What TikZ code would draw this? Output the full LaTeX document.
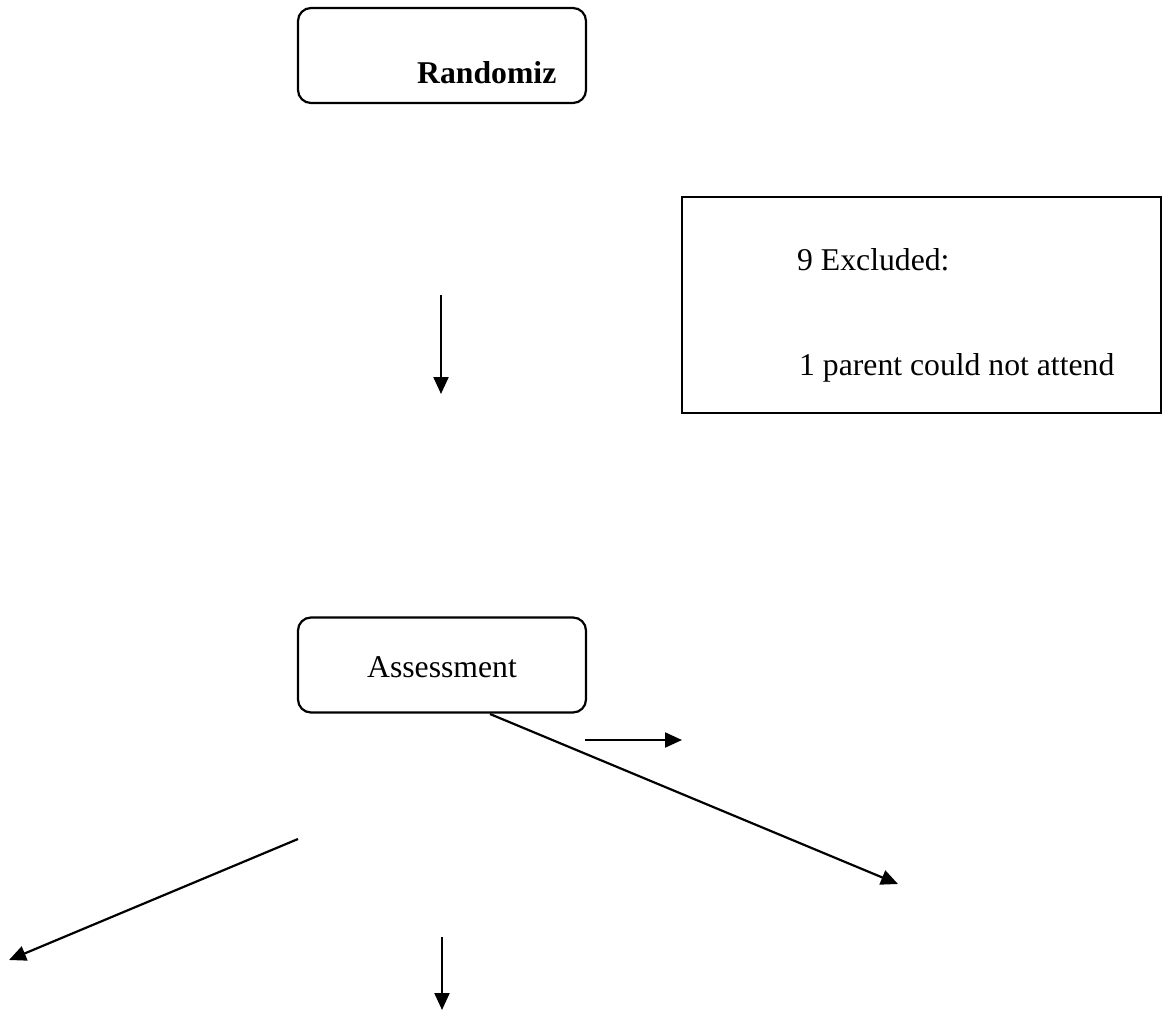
\documentclass[tikz,border=0pt]{standalone}
\usepackage{fontspec}
\setmainfont{Liberation Serif}
\usetikzlibrary{arrows.meta}
\begin{document}
\begin{tikzpicture}[x=1pt,y=-1pt,
  roundbox/.style={draw,line width=2.2pt,rounded corners=13pt,inner sep=0pt,minimum width=288pt,minimum height=95pt},
  plainbox/.style={draw,line width=2.2pt,inner sep=0pt,minimum width=479pt,minimum height=216pt},
  lbl/.style={inner sep=0pt,font=\fontsize{31.7}{38}\selectfont},
  arr/.style={line width=2.2pt,-{Triangle[length=17pt,width=15pt]}}]
\useasboundingbox[fill=white] (0,0) rectangle (1163,1017);
% boxes
\node[roundbox] (rand) at (442,55.5) {};
\node[lbl,anchor=base west,font=\fontsize{31.7}{38}\selectfont\bfseries] (randt) at (417,83) {Randomiz};
\node[plainbox] (excl) at (921.5,305) {};
\node[lbl,anchor=base west] (ex1) at (797,270) {9 Excluded:};
\node[lbl,anchor=base west] (ex2) at (799,375) {1 parent could not attend};
\node[roundbox] (assess) at (442,665) {};
\node[lbl,anchor=base] (asst) at (442,677) {Assessment};
% free connector ends
\coordinate (a1s) at (441,295);
\coordinate (a1e) at (441,394);
\coordinate (a2s) at (490,714);
\coordinate (a2e) at (898,884);
\coordinate (a3s) at (585,740);
\coordinate (a3e) at (682,740);
\coordinate (a4s) at (298,839);
\coordinate (a4e) at (9,960);
\coordinate (a5s) at (442,937);
\coordinate (a5e) at (442,1010);
% connectors
\draw[arr] (a1s) -- (a1e);
\draw[arr] (a2s) -- (a2e);
\draw[arr] (a3s) -- (a3e);
\draw[arr] (a4s) -- (a4e);
\draw[arr] (a5s) -- (a5e);
\end{tikzpicture}
\end{document}
